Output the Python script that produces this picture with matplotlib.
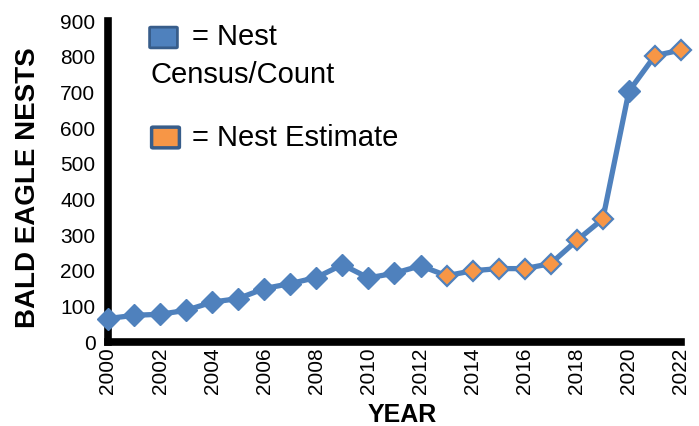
import matplotlib
matplotlib.use('Agg')
import matplotlib.pyplot as plt
from matplotlib.patches import FancyBboxPatch
from matplotlib import rcParams

rcParams['font.family'] = 'Liberation Sans'

years = list(range(2000, 2023))
nests = [66, 75, 78, 89, 112, 122, 150, 164, 181, 217, 180, 193, 214,
         186, 200, 206, 206, 220, 285, 345, 703, 803, 819]
# True = estimate (orange marker), False = census/count (blue marker)
estimate = [False]*13 + [True]*7 + [False] + [True]*2

blue = '#4F81BD'
blue_dark = '#385D8A'
orange = '#F79646'

fig = plt.figure(figsize=(6.99, 4.26), dpi=100)
ax = fig.add_axes([0.1545, 0.197, 0.8197, 0.7535])

ax.plot(years, nests, color=blue, linewidth=3.8, zorder=3, clip_on=False)
for yr, n, est in zip(years, nests, estimate):
    if est:
        ax.plot(yr, n, marker='D', markersize=10, markerfacecolor=orange,
                markeredgecolor=blue, markeredgewidth=1.6, zorder=4, clip_on=False)
    else:
        ax.plot(yr, n, marker='D', markersize=11, markerfacecolor=blue,
                markeredgecolor=blue, zorder=4, clip_on=False)

ax.set_xlim(2000, 2022)
ax.set_ylim(0, 900)
ax.set_xticks(range(2000, 2023, 2))
ax.set_xticklabels([str(y) for y in range(2000, 2023, 2)], rotation=90, fontsize=15)
ax.set_yticks(range(0, 901, 100))
ax.tick_params(axis='y', labelsize=15, length=0, pad=9)
ax.tick_params(axis='x', length=0, pad=4)

for s in ['top', 'right']:
    ax.spines[s].set_visible(False)
for s in ['left', 'bottom']:
    ax.spines[s].set_linewidth(5.5)
    ax.spines[s].set_color('black')
    ax.spines[s].set_capstyle('projecting')

fig.text(402/699, 1-415/426, 'YEAR', fontsize=18, fontweight='bold',
         ha='center', va='center')
fig.text(28/699, 1-188/426, 'BALD EAGLE NESTS', fontsize=20, fontweight='bold',
         ha='center', va='center', rotation=90)

# legend drawn by hand
box1 = FancyBboxPatch((151/699, 1-47/426), 25/699, 19/426,
                      boxstyle='round,pad=0.002', transform=fig.transFigure,
                      facecolor=blue, edgecolor=blue_dark, linewidth=2)
box2 = FancyBboxPatch((153/699, 1-147/426), 25/699, 19/426,
                      boxstyle='round,pad=0.002', transform=fig.transFigure,
                      facecolor=orange, edgecolor=blue_dark, linewidth=2.5)
fig.patches.extend([box1, box2])
fig.text(192/699, 1-37/426, '= Nest', fontsize=21, va='center')
fig.text(151/699, 1-75/426, 'Census/Count', fontsize=21, va='center')
fig.text(192/699, 1-138/426, '= Nest Estimate', fontsize=21, va='center')

fig.savefig('out.png', dpi=100)
